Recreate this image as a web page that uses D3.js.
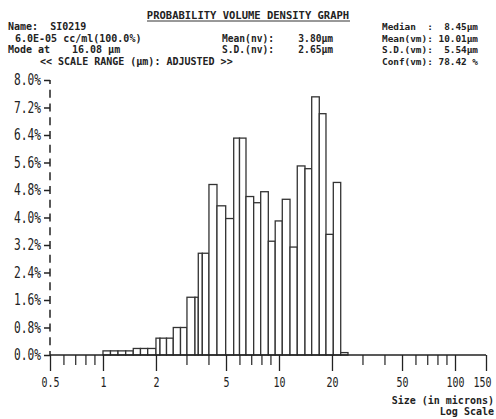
<!DOCTYPE html>
<html>
<head>
<meta charset="utf-8">
<script src="https://cdn.jsdelivr.net/npm/d3@7"></script>
<style>
  body { margin: 0; background: #fff; }
  text { font-family: "DejaVu Sans Mono", monospace; fill: #222; white-space: pre; }
  .hdr { font-weight: bold; }
</style>
</head>
<body>
<div id="chart"></div>
<script>
// Bin edges (microns) and volume % per bin
var binEdges = [1.0, 1.103, 1.217, 1.346, 1.486, 1.633, 1.795, 2.0, 2.108, 2.296, 2.508,
    2.757, 3.0, 3.332, 3.479, 3.667, 4.0, 4.443, 4.98, 5.529, 5.966, 6.494, 7.18,
    7.871, 8.696, 9.516, 10.44, 11.55, 12.7, 14.05, 15.34, 16.94, 18.49, 20.35, 22.42, 24.66];
var volPct = [0.12, 0.12, 0.12, 0.12, 0.19, 0.19, 0.19, 0.49, 0.49, 0.49, 0.80,
    0.80, 1.68, 1.68, 2.96, 2.96, 4.96, 4.34, 3.97, 6.31, 6.31, 4.61, 4.43,
    4.75, 3.31, 3.90, 4.53, 3.14, 5.50, 5.42, 7.51, 7.02, 3.51, 5.02, 0.07];

var yTicks = [0, 0.8, 1.6, 2.4, 3.2, 4.0, 4.8, 5.6, 6.4, 7.2, 8.0];
var xMajor = [0.5, 1, 2, 5, 10, 20, 50, 100, 150];
var xMinor = [0.6, 0.7, 0.8, 0.9, 3, 4, 6, 7, 8, 9, 30, 40, 60, 70, 80, 90];

var svgWidth = 496;
var svgHeight = 419;

var svg = d3.select("#chart").append("svg")
    .attr("width", svgWidth).attr("height", svgHeight);

var x = d3.scaleLog().domain([0.5, 150]).range([50, 486]);
var y = d3.scaleLinear().domain([0, 8]).range([355, 80]);

var bins = volPct.map((v, i) => ({lo: binEdges[i], hi: binEdges[i + 1], v: v}));

// bars
svg.append("g").selectAll("rect")
    .data(bins)
    .enter().append("rect")
    .attr("x", d => x(d.lo))
    .attr("y", d => y(d.v))
    .attr("width", d => x(d.hi) - x(d.lo))
    .attr("height", d => y(0) - y(d.v))
    .attr("fill", "#fff")
    .attr("stroke", "#333")
    .attr("stroke-width", 1.3);

// y axis (dashed like the printout)
svg.append("line")
    .attr("x1", 50).attr("x2", 50)
    .attr("y1", y(0)).attr("y2", y(8))
    .attr("stroke", "#222").attr("stroke-width", 1.5)
    .attr("stroke-dasharray", "8,5.75")
    .attr("stroke-dashoffset", 4);

var yAxis = d3.axisLeft(y).tickValues(yTicks).tickSize(6).tickPadding(3)
    .tickFormat(d => d3.format(".1f")(d) + "%");
var gy = svg.append("g").attr("transform", "translate(50,0)").call(yAxis);
gy.select(".domain").remove();
gy.selectAll(".tick line").attr("stroke", "#222").attr("stroke-width", 1.5);
gy.selectAll(".tick text")
    .attr("font-size", 15)
    .attr("textLength", 27).attr("lengthAdjust", "spacingAndGlyphs")
    .style("font-family", "'DejaVu Sans Mono', monospace")
    .attr("fill", "#222");

// x axis
svg.append("line")
    .attr("x1", 50).attr("x2", 486)
    .attr("y1", y(0)).attr("y2", y(0))
    .attr("stroke", "#222").attr("stroke-width", 1.5);

var xAxis = d3.axisBottom(x).tickValues(xMajor).tickSize(16).tickPadding(6)
    .tickFormat(d => d);
var gx = svg.append("g").attr("transform", `translate(0,${y(0)})`).call(xAxis);
gx.select(".domain").remove();
gx.selectAll(".tick line").attr("stroke", "#222").attr("stroke-width", 1.3);
gx.selectAll(".tick text")
    .attr("font-size", 14)
    .attr("textLength", d => String(d).length * 6)
    .attr("lengthAdjust", "spacingAndGlyphs")
    .style("font-family", "'DejaVu Sans Mono', monospace")
    .attr("fill", "#222");
// last label sits near the right edge
gx.selectAll(".tick text").filter(d => d === 150)
    .attr("text-anchor", "end").attr("dx", 5);

svg.append("g").selectAll("line")
    .data(xMinor)
    .enter().append("line")
    .attr("x1", d => x(d)).attr("x2", d => x(d))
    .attr("y1", y(0)).attr("y2", y(0) + 10)
    .attr("stroke", "#222").attr("stroke-width", 1.2);

// header text
svg.append("text").attr("class", "hdr").attr("x", 248).attr("y", 18.5).attr("text-anchor", "middle")
    .attr("font-size", 10.5).text("PROBABILITY VOLUME DENSITY GRAPH");
svg.append("line").attr("x1", 147).attr("x2", 350).attr("y1", 21).attr("y2", 21)
    .attr("stroke", "#333").attr("stroke-width", 1);

var t = (tx, ty, s, anchor, fs) => svg.append("text").attr("class", "hdr")
    .attr("x", tx).attr("y", ty)
    .attr("font-size", fs || 10).attr("text-anchor", anchor || "start").text(s);

t(8, 30, "Name:  SI0219");
t(15, 41.5, "6.0E-05 cc/ml(100.0%)");
t(8, 53, "Mode at");
t(72, 53, "16.08 µm");
t(40, 65, "<< SCALE RANGE (µm): ADJUSTED >>");

t(222, 41.5, "Mean(nv):", null, 9.6);
t(333, 41.5, "3.80µm", "end", 9.6);
t(222, 53, "S.D.(nv):", null, 9.6);
t(333, 53, "2.65µm", "end", 9.6);

t(382, 30, "Median  :", null, 9.4);
t(478, 30, "8.45µm", "end", 9.4);
t(382, 41.5, "Mean(vm):", null, 9.4);
t(478, 41.5, "10.01µm", "end", 9.4);
t(382, 53, "S.D.(vm):", null, 9.4);
t(478, 53, "5.54µm", "end", 9.4);
t(382, 65, "Conf(vm):", null, 9.4);
t(478, 65, "78.42 %", "end", 9.4);

t(494, 404, "Size (in microns)", "end");
t(494, 415, "Log Scale", "end");
</script>
</body>
</html>
